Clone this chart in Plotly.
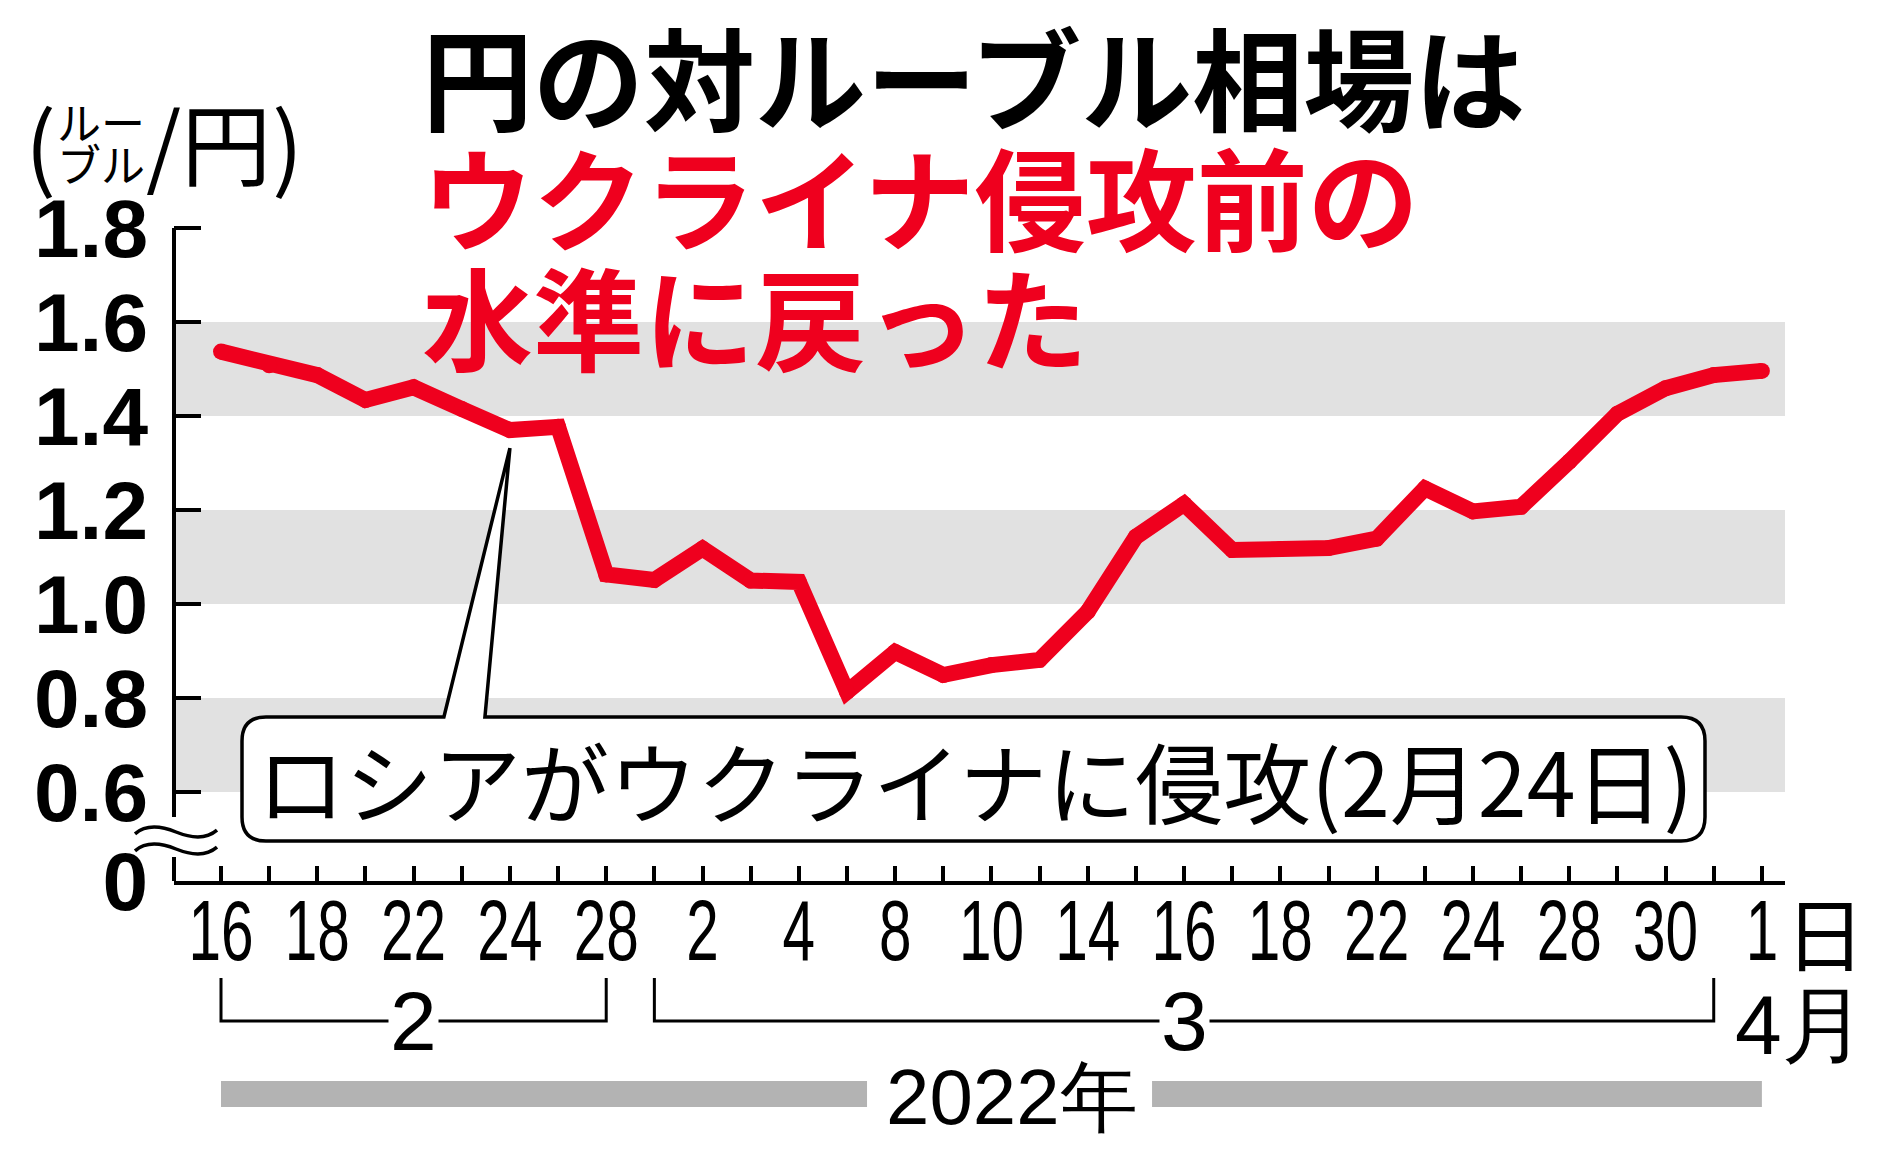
import plotly.graph_objects as go

# ---------------- data ----------------
dates = ["2/16", "2/17", "2/18", "2/21", "2/22", "2/23", "2/24", "2/25", "2/28",
         "3/1", "3/2", "3/3", "3/4", "3/7", "3/8", "3/9", "3/10", "3/11", "3/14",
         "3/15", "3/16", "3/17", "3/18", "3/21", "3/22", "3/23", "3/24", "3/25",
         "3/28", "3/29", "3/30", "3/31", "4/1"]
rub_per_yen = [1.537, 1.508, 1.487, 1.434, 1.461, 1.415, 1.370, 1.377, 1.063,
               1.051, 1.118, 1.050, 1.047, 0.813, 0.898, 0.849, 0.870, 0.881, 0.984,
               1.143, 1.213, 1.115, 1.117, 1.119, 1.139, 1.246, 1.197, 1.207,
               1.303, 1.405, 1.459, 1.487, 1.496]
x_tick_labels = ["16", "", "18", "", "22", "", "24", "", "28",
                 "", "2", "", "4", "", "8", "", "10", "", "14",
                 "", "16", "", "18", "", "22", "", "24", "", "28",
                 "", "30", "", "1"]
y_tick_values = [0.6, 0.8, 1.0, 1.2, 1.4, 1.6, 1.8]
y_tick_labels = ["0.6", "0.8", "1.0", "1.2", "1.4", "1.6", "1.8"]
band_ranges = [(0.6, 0.8), (1.0, 1.2), (1.4, 1.6)]
invasion_date = "2/24"
months = [("2", "2/16", "2/28"), ("3", "3/1", "3/31")]

RED = "#ef001e"
BAND = "#e1e1e1"
YEARBAR = "#b3b3b3"

# ---------------- layout geometry (pixels) ----------------
W, H = 1886, 1151
L, R, T, B = 174, 1785, 150, 881
Y_MIN, Y_MAX = 0.41064, 1.96596
X_MIN, X_MAX = -0.976, 32.48


def px(x):
    return (x - L) / (R - L)


def py(y):
    return (B - y) / (B - T)


def vy(v):  # data value -> pixel y
    return B - (v - Y_MIN) / (Y_MAX - Y_MIN) * (B - T)


def xi(i):  # category index -> pixel x
    return L + (i - X_MIN) / (X_MAX - X_MIN) * (R - L)


fig = go.Figure()
fig.add_trace(go.Scatter(
    x=dates, y=rub_per_yen, mode="lines+markers",
    line=dict(color=RED, width=16),
    marker=dict(color=RED, size=16),
    hoverinfo="skip", showlegend=False,
))

shapes = []
# grey bands
for y0, y1 in band_ranges:
    shapes.append(dict(type="rect", xref="paper", yref="y", x0=0, x1=1, y0=y0, y1=y1,
                       fillcolor=BAND, line=dict(width=0), layer="below"))

# broken y axis line
shapes.append(dict(type="line", xref="paper", yref="y", x0=0, x1=0,
                   y0=1.8, y1=0.6 - 25 / 470, line=dict(color="black", width=4)))
shapes.append(dict(type="line", xref="paper", yref="paper", x0=0, x1=0,
                   y0=py(857), y1=0, line=dict(color="black", width=4)))


def wave(x0, x1, yc, amp):
    w = x1 - x0
    p = "M %f,%f" % (px(x0), py(yc + amp * 0.3))
    p += " C %f,%f %f,%f %f,%f" % (px(x0 + w * 0.12), py(yc - amp * 1.1),
                                   px(x0 + w * 0.3), py(yc - amp * 1.1),
                                   px(x0 + w * 0.5), py(yc))
    p += " C %f,%f %f,%f %f,%f" % (px(x0 + w * 0.7), py(yc + amp * 1.1),
                                   px(x0 + w * 0.88), py(yc + amp * 1.1),
                                   px(x1), py(yc - amp * 0.3))
    return p


for yc in (832, 849):
    shapes.append(dict(type="path", xref="paper", yref="paper", path=wave(135, 217, yc, 6),
                       line=dict(color="black", width=3.5)))

# callout box with pointer
i_inv = dates.index(invasion_date)
tip_x = xi(i_inv)
tip_y = vy(rub_per_yen[i_inv]) + 18
bx0, bx1, by0, by1, r = 242, 1705, 717, 841, 24
pts = [("M", bx0 + r, by0), ("L", tip_x - 66, by0), ("L", tip_x, tip_y), ("L", tip_x - 25, by0),
       ("L", bx1 - r, by0)]
path = ""
for c, x, y in pts:
    path += "%s %f,%f " % (c, px(x), py(y))
path += "Q %f,%f %f,%f " % (px(bx1), py(by0), px(bx1), py(by0 + r))
path += "L %f,%f " % (px(bx1), py(by1 - r))
path += "Q %f,%f %f,%f " % (px(bx1), py(by1), px(bx1 - r), py(by1))
path += "L %f,%f " % (px(bx0 + r), py(by1))
path += "Q %f,%f %f,%f " % (px(bx0), py(by1), px(bx0), py(by1 - r))
path += "L %f,%f " % (px(bx0), py(by0 + r))
path += "Q %f,%f %f,%f Z" % (px(bx0), py(by0), px(bx0 + r), py(by0))
shapes.append(dict(type="path", xref="paper", yref="paper", path=path,
                   fillcolor="white", line=dict(color="black", width=3.5)))

# month brackets
for label, d0, d1 in months:
    i0, i1 = dates.index(d0), dates.index(d1)
    shapes.append(dict(type="path", xref="x", yref="paper",
                       path="M %f,%f L %f,%f L %f,%f L %f,%f" % (i0, py(978), i0, py(1021),
                                                               i1, py(1021), i1, py(978)),
                       line=dict(color="black", width=3)))

# year bars
shapes.append(dict(type="rect", xref="x", yref="paper", x0=0, x1=(867 - 221) / 48.15,
                   y0=py(1081), y1=py(1107), fillcolor=YEARBAR, line=dict(width=0)))
shapes.append(dict(type="rect", xref="x", yref="paper", x0=(1152 - 221) / 48.15, x1=len(dates) - 1,
                   y0=py(1081), y1=py(1107), fillcolor=YEARBAR, line=dict(width=0)))

JP = "Noto Sans CJK JP"
SANS = "Liberation Sans"
annotations = []


def ann(text, x, y, size, color="black", family=JP, weight="normal", xanchor="center", bg=None):
    d = dict(text=text, xref="paper", yref="paper", x=px(x), y=py(y), showarrow=False,
             xanchor=xanchor, yanchor="middle",
             font=dict(family=family, size=size, color=color, weight=weight))
    if bg:
        d["bgcolor"] = bg
    annotations.append(d)


# title
ann("円の対ルーブル相場は", 420, 75, 111, "black", weight="bold", xanchor="left")
ann("ウクライナ侵攻前の", 420, 194, 111, RED, weight="bold", xanchor="left")
ann("水準に戻った", 420, 314, 111, RED, weight="bold", xanchor="left")

# unit label
ann("(", 40, 140, 92)
ann("ルー", 101, 121, 44)
ann("ブル", 101, 163, 44)
ann("/円", 208, 140, 90)
ann(")", 287, 140, 92)

# callout text
ann("ロシアがウクライナに侵攻(2月24日)", 975, 778, 88)

# month / year labels
for label, d0, d1 in months:
    i0, i1 = dates.index(d0), dates.index(d1)
    cx = (xi(i0) + xi(i1)) / 2
    ann(label, cx, 1021, 84, family=SANS, bg="white")
ann("日", 1825, 930, 80)
ann("4月", 1800, 1025, 84, family=SANS)
ann("2022年", 1012, 1097, 78, family=SANS)

fig.update_layout(
    width=W, height=H,
    margin=dict(l=L, r=W - R, t=T, b=H - B, pad=0),
    paper_bgcolor="white", plot_bgcolor="white",
    shapes=shapes, annotations=annotations,
    showlegend=False,
    xaxis=dict(type="category", range=[X_MIN, X_MAX], showgrid=False, zeroline=False,
               showline=True, linecolor="black", linewidth=4,
               ticks="inside", ticklen=15, tickwidth=4, tickcolor="black",
               tickmode="array", tickvals=dates, ticktext=x_tick_labels, tickangle=0,
               tickfont=dict(family=SANS, size=86, color="black"),
               ticklabelstandoff=-28, fixedrange=True),
    yaxis=dict(range=[Y_MIN, Y_MAX], showgrid=False, zeroline=False, showline=False,
               ticks="inside", ticklen=27, tickwidth=4, tickcolor="black",
               tickmode="array", tickvals=[Y_MIN + 0.0001] + y_tick_values,
               ticktext=["0"] + y_tick_labels,
               tickfont=dict(family=SANS, size=82, color="black", weight="bold"),
               ticklabelstandoff=25, fixedrange=True),
)

# condense the date tick labels horizontally (the reference uses a condensed face)
post = """
document.body.style.margin='0';
document.querySelectorAll('.xtick text').forEach(function(t){
  var w = t.getComputedTextLength();
  if (w > 0) {
    t.setAttribute('textLength', (w * 0.68).toFixed(1));
    t.setAttribute('lengthAdjust', 'spacingAndGlyphs');
  }
});
"""

fig.write_html("out.html", config={"displayModeBar": False}, post_script=post)
